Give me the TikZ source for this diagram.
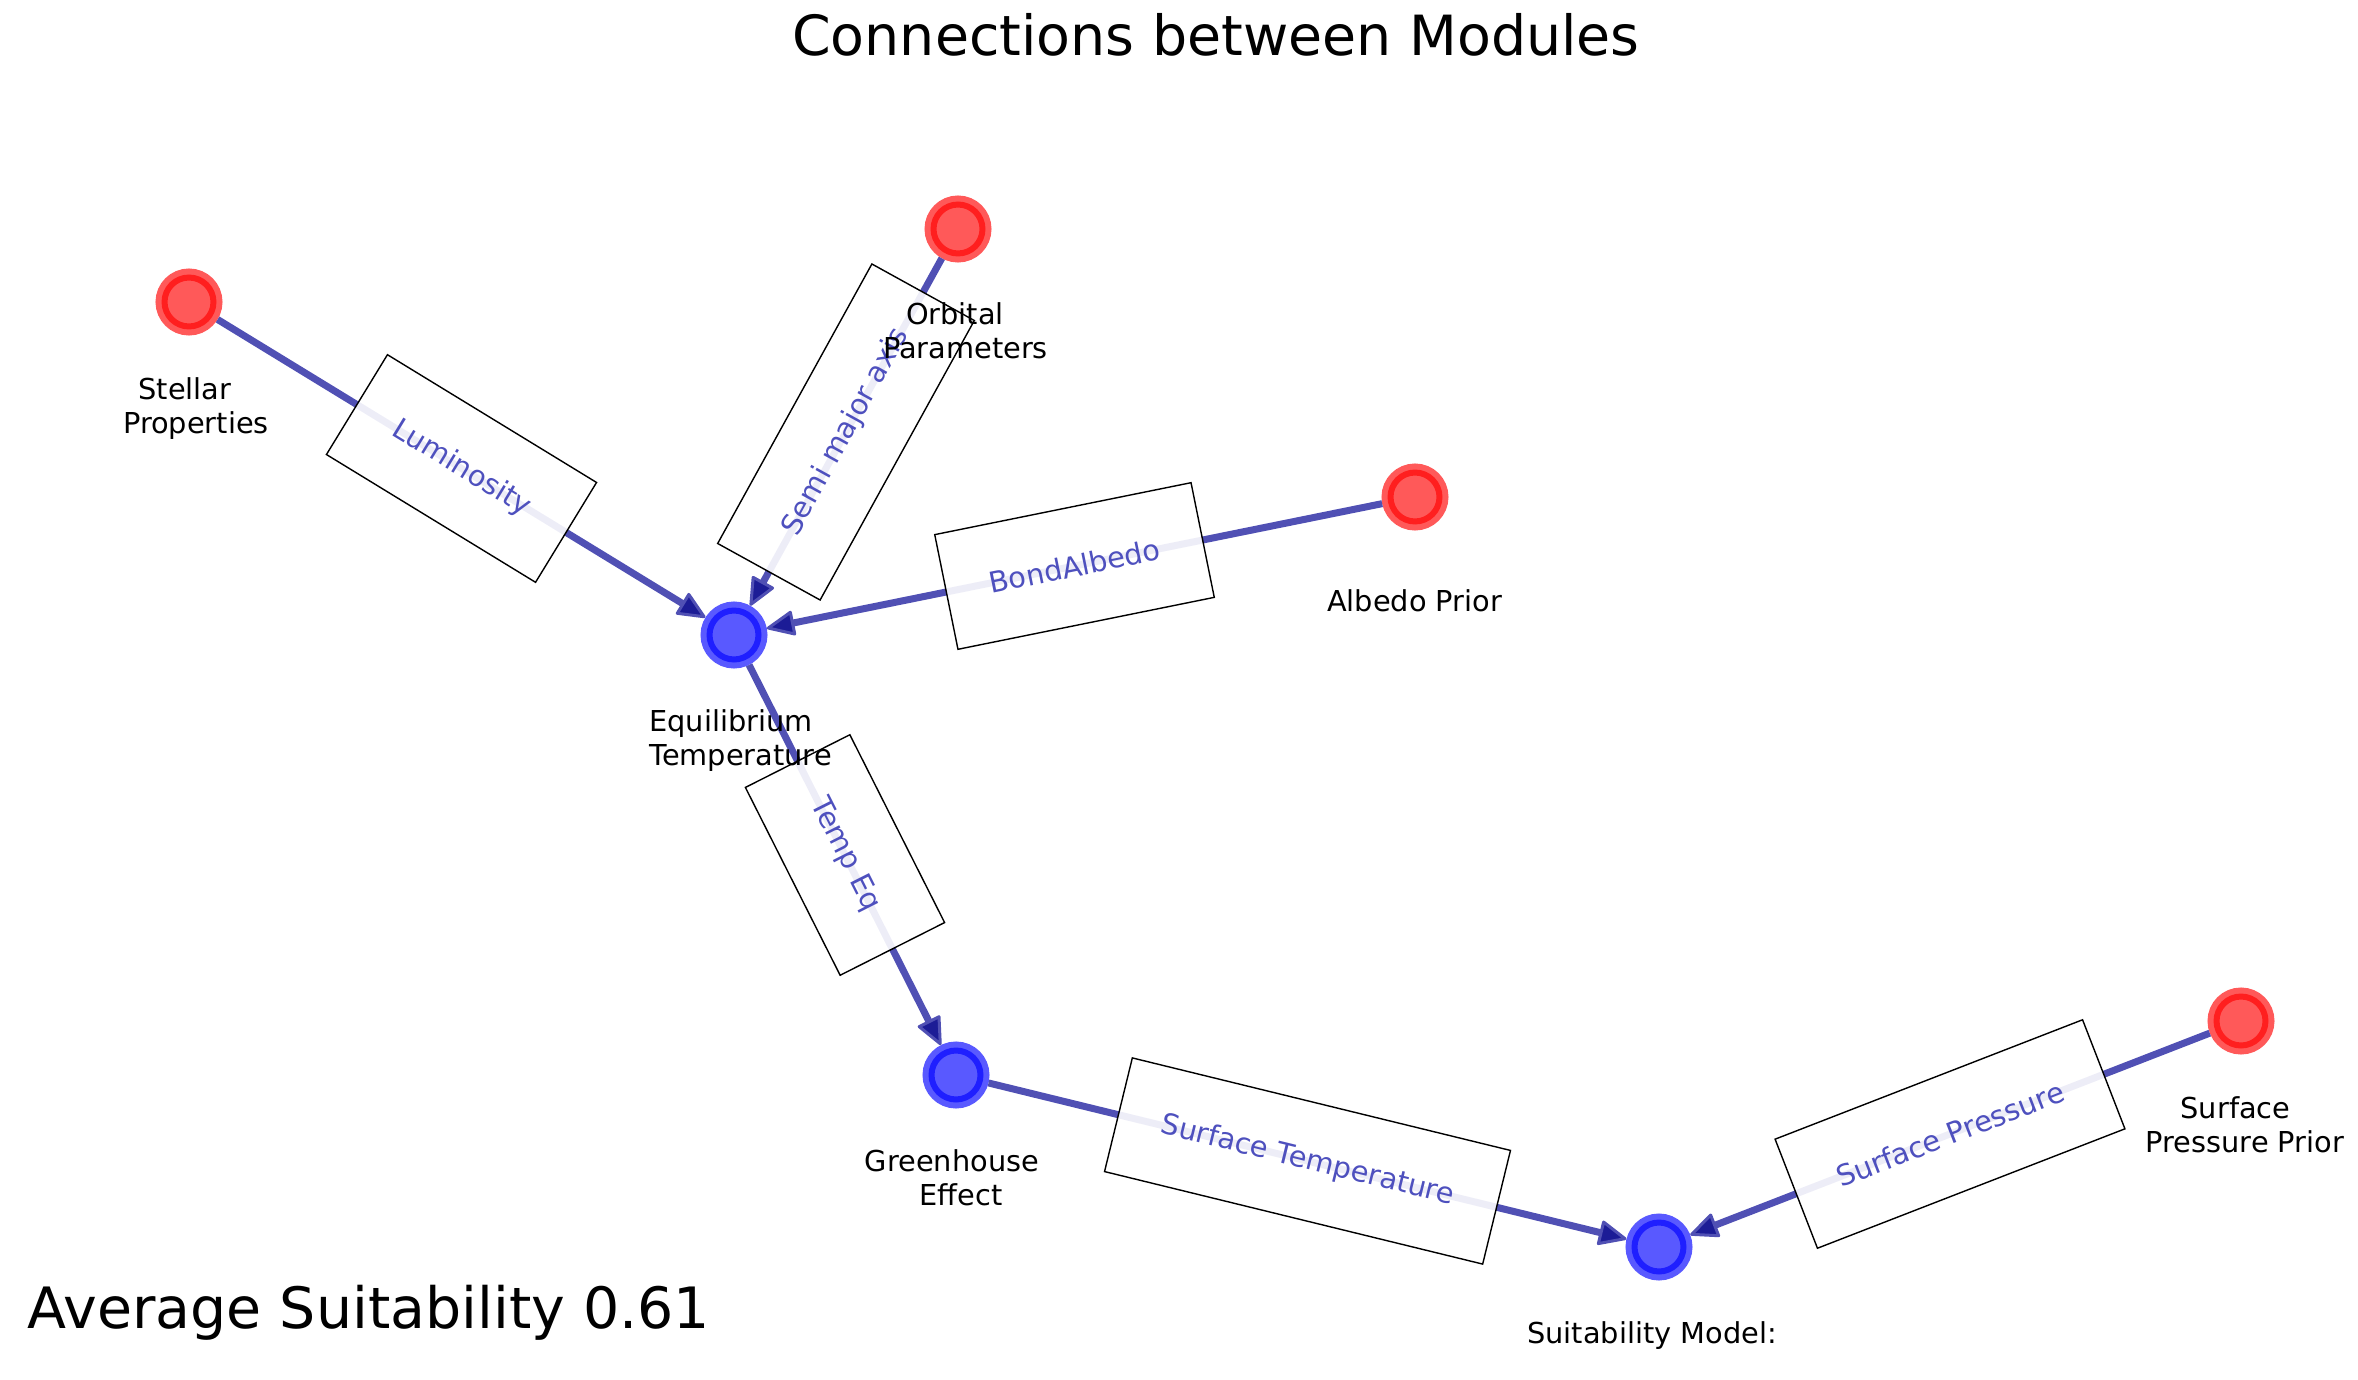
\documentclass[tikz,border=0pt]{standalone}
\usepackage{fontspec}
\setmainfont{DejaVu Sans}
\usetikzlibrary{arrows.meta}
\definecolor{edgeblue}{RGB}{80,80,180}
\definecolor{tipblue}{RGB}{28,28,150}
\definecolor{textblue}{RGB}{78,80,190}

\begin{document}
\begin{tikzpicture}[x=0.5pt,y=0.5pt]
\tikzstyle{prior}=[circle,minimum size=27.5pt,inner sep=0pt,line width=6pt,draw=red,fill=red,opacity=0.65]
\tikzstyle{module}=[prior,draw=blue,fill=blue]
\tikzstyle{modlabel}=[align=center,inner sep=0pt,font=\fontsize{14.4}{17}\selectfont]
\tikzstyle{flow}=[line width=3.5pt,color=edgeblue,-{Triangle[length=15pt,width=13pt,line width=1.5pt,round,fill=tipblue]}]
\tikzstyle{edgelabel}=[sloped,draw=black,line width=0.7pt,fill=white,fill opacity=0.9,text opacity=1,text=textblue,font=\fontsize{14.4}{17}\selectfont,inner xsep=22pt,minimum height=58.5pt]
\useasboundingbox (0,0) rectangle (2358,-1380);
\node[prior] (st) at (189,-302) {};
\node[prior] (orb) at (958,-229) {};
\node[prior] (alb) at (1415,-497) {};
\node[module] (eq) at (734,-635) {};
\node[module] (gh) at (956,-1075) {};
\node[module] (suit) at (1659,-1247) {};
\node[prior] (sp) at (2241,-1021) {};
\draw[flow] (st) -- node[edgelabel] {Luminosity} (eq);
\draw[flow] (orb) -- node[edgelabel] {Semi major axis} (eq);
\draw[flow] (alb) -- node[edgelabel] {BondAlbedo} (eq);
\draw[flow] (eq) -- node[edgelabel] {Temp Eq} (gh);
\draw[flow] (gh) -- node[edgelabel] {Surface Temperature} (suit);
\draw[flow] (sp) -- node[edgelabel] {Surface Pressure} (suit);
\node[modlabel] (st-l) at (196,-409) {Stellar\rule{11pt}{0pt}\\Properties};
\node[modlabel] (orb-l) at (965.5,-331) {Orbital\rule{10.5pt}{0pt}\\Parameters};
\node[modlabel] (alb-l) at (1414.5,-601) {Albedo Prior};
\node[modlabel,align=left] (eq-l) at (740.5,-741) {Equilibrium\\Temperature};
\node[modlabel] (gh-l) at (952,-1178) {Greenhouse\\\rule{9pt}{0pt}Effect};
\node[modlabel] (suit-l) at (1652,-1336) {Suitability Model:};
\node[modlabel] (sp-l) at (2245,-1124.5) {Surface\rule{9.5pt}{0pt}\\Pressure Prior};
\node[font=\fontsize{27.7}{33}\selectfont,inner sep=0pt] (title) at (1216,-35) {Connections between Modules};
\node[font=\fontsize{28.5}{34}\selectfont,inner sep=0pt] (avg) at (369,-1312.5) {Average Suitability 0.61};
\end{tikzpicture}
\end{document}
